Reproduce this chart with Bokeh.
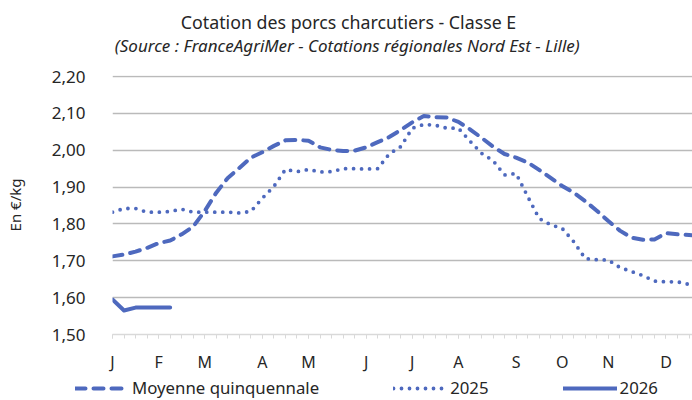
from bokeh.plotting import figure
from bokeh.models import FixedTicker, Legend, LegendItem, Range1d, Label
from bokeh.layouts import column
from bokeh.embed import file_html
from bokeh.resources import INLINE

# ---- data (weekly values, week index 0 = first week of January) ----
weeks_avg = list(range(0, 52))
avg_5y = [1.712, 1.717, 1.725, 1.735, 1.748, 1.755, 1.772, 1.793, 1.835, 1.885,
          1.925, 1.952, 1.980, 1.995, 2.012, 2.027, 2.028, 2.026, 2.008, 2.001,
          1.998, 1.999, 2.008, 2.022, 2.036, 2.055, 2.076, 2.093, 2.090, 2.089,
          2.077, 2.057, 2.034, 2.010, 1.990, 1.980, 1.967, 1.947, 1.925, 1.903,
          1.885, 1.862, 1.836, 1.808, 1.782, 1.763, 1.757, 1.758, 1.775, 1.772,
          1.770, 1.768]

weeks_2025 = list(range(0, 52))
y2025 = [1.832, 1.842, 1.842, 1.832, 1.832, 1.834, 1.840, 1.832, 1.832, 1.832,
         1.832, 1.830, 1.834, 1.870, 1.902, 1.948, 1.942, 1.948, 1.941, 1.942,
         1.950, 1.950, 1.949, 1.950, 1.990, 2.010, 2.060, 2.070, 2.068, 2.060,
         2.060, 2.025, 1.992, 1.972, 1.933, 1.937, 1.875, 1.815, 1.798, 1.788,
         1.752, 1.706, 1.703, 1.702, 1.682, 1.671, 1.660, 1.645, 1.643, 1.643,
         1.636, 1.630]

weeks_2026 = [0, 1, 2, 3, 4, 5]
y2026 = [1.595, 1.565, 1.573, 1.573, 1.573, 1.573]

month_ticks = [0, 4, 8, 13, 17, 22, 26, 30, 35, 39, 43, 48]
month_labels = ["J", "F", "M", "A", "M", "J", "J", "A", "S", "O", "N", "D"]
y_ticks = [1.5, 1.6, 1.7, 1.8, 1.9, 2.0, 2.1, 2.2]
y_labels = ["1,50", "1,60", "1,70", "1,80", "1,90", "2,00", "2,10", "2,20"]

title_text = "Cotation des porcs charcutiers - Classe E"
subtitle_text = "(Source : FranceAgriMer -  Cotations régionales Nord Est - Lille)"
y_axis_title = "En €/kg"
series_names = ["Moyenne quinquennale", "2025", "2026"]

# ---- styling ----
COLOR = "#4e69be"
FONT = "Noto Sans"
TXT = "#262626"
W = 692

AVG_STYLE = dict(line_color=COLOR, line_width=4, line_dash="10 8",
                 line_cap="round", line_join="round")
Y25_STYLE = dict(line_color=COLOR, line_width=3.8, line_dash="0 8",
                 line_cap="round", line_join="round")
Y26_STYLE = dict(line_color=COLOR, line_width=4, line_cap="round",
                 line_join="round")

# ---------------- title strip ----------------
pt = figure(width=W, height=60, output_backend="svg", toolbar_location=None,
            x_axis_location=None, y_axis_location=None, title_location=None,
            x_range=Range1d(0, W), y_range=Range1d(0, 60),
            min_border=0, frame_align=False)
pt.outline_line_color = None
pt.grid.visible = False
pt.add_layout(Label(x=348, y=39, x_units="screen", y_units="screen",
                    text=title_text, text_align="center", text_baseline="middle",
                    text_font=FONT, text_font_size="17.8px", text_color=TXT))
pt.add_layout(Label(x=349, y=15, x_units="screen", y_units="screen",
                    text=subtitle_text, text_align="center", text_baseline="middle",
                    text_font=FONT, text_font_style="italic",
                    text_font_size="17px", text_color=TXT))

# ---------------- main chart ----------------
p = figure(width=W, height=315, output_backend="svg", toolbar_location=None,
           title_location=None,
           x_range=Range1d(0, 50.3), y_range=Range1d(1.5, 2.203),
           min_border_left=112, min_border_right=0, min_border_top=15,
           min_border_bottom=38, frame_align=False)
p.outline_line_color = None

p.xaxis.ticker = FixedTicker(ticks=month_ticks, minor_ticks=list(range(0, 52)))
p.xaxis.major_label_overrides = {t: l for t, l in zip(month_ticks, month_labels)}
p.xaxis.axis_line_color = "#d9d9d9"
p.xaxis.axis_line_width = 1.5
p.xaxis.major_tick_line_color = "#d9d9d9"
p.xaxis.minor_tick_line_color = "#d9d9d9"
p.xaxis.major_tick_in = 0
p.xaxis.minor_tick_in = 0
p.xaxis.major_tick_out = 4
p.xaxis.minor_tick_out = 4
p.xaxis.major_label_standoff = 12
p.xaxis.major_label_text_font = FONT
p.xaxis.major_label_text_font_size = "16px"
p.xaxis.major_label_text_color = TXT

p.yaxis.ticker = FixedTicker(ticks=y_ticks)
p.yaxis.major_label_overrides = {t: l for t, l in zip(y_ticks, y_labels)}
p.yaxis.axis_line_color = None
p.yaxis.major_tick_line_color = None
p.yaxis.minor_tick_line_color = None
p.yaxis.major_label_standoff = 21
p.yaxis.major_label_text_font = FONT
p.yaxis.major_label_text_font_size = "17px"
p.yaxis.major_label_text_color = TXT
p.yaxis.axis_label = y_axis_title
p.yaxis.axis_label_text_font = FONT
p.yaxis.axis_label_text_font_style = "normal"
p.yaxis.axis_label_text_font_size = "15px"
p.yaxis.axis_label_text_color = TXT
p.yaxis.axis_label_standoff = 24

p.xgrid.grid_line_color = None
p.ygrid.ticker = FixedTicker(ticks=y_ticks[1:])
p.ygrid.grid_line_color = "#bababa"
p.ygrid.grid_line_width = 1.3

p.line(weeks_avg, avg_5y, **AVG_STYLE)
p.line(weeks_2025, y2025, **Y25_STYLE)
p.line(weeks_2026, y2026, **Y26_STYLE)

# ---------------- legend strip ----------------
pl = figure(width=W, height=25, output_backend="svg", toolbar_location=None,
            x_axis_location=None, y_axis_location=None, title_location=None,
            x_range=Range1d(0, 1), y_range=Range1d(0, 1), min_border=0,
            frame_align=False)
pl.outline_line_color = None
pl.grid.visible = False
# legend proxies: same series, hidden in this strip
l_avg = pl.line(weeks_avg, avg_5y, visible=False, **AVG_STYLE)
l_25 = pl.line(weeks_2025, y2025, visible=False, **Y25_STYLE)
l_26 = pl.line(weeks_2026, y2026, visible=False, **Y26_STYLE)
legend = Legend(items=[LegendItem(label=series_names[0], renderers=[l_avg]),
                       LegendItem(label=series_names[1], renderers=[l_25]),
                       LegendItem(label=series_names[2], renderers=[l_26])],
                orientation="horizontal", location=(75, 1),
                padding=0, margin=0, spacing=74, glyph_width=54,
                glyph_height=18, label_height=18, label_standoff=3,
                border_line_color=None, background_fill_alpha=0,
                label_text_font=FONT, label_text_font_size="16.8px",
                label_text_color=TXT)
pl.add_layout(legend, "center")

layout = column(pt, p, pl, spacing=0)
open("out.html", "w").write(file_html(layout, INLINE))
